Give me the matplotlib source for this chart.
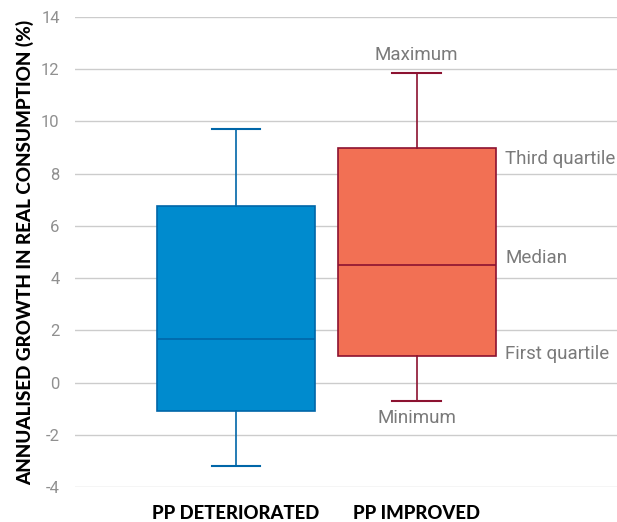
import matplotlib.pyplot as plt

plt.rcParams["axes.unicode_minus"] = False

categories = ["PP DETERIORATED", "PP IMPROVED"]
minimum = [-3.2, -0.7]
first_q = [-1.1, 1.0]
median = [1.65, 4.5]
third_q = [6.75, 9.0]
maximum = [9.7, 11.85]
face_colors = ["#008BCE", "#F27054"]
edge_colors = ["#0066A8", "#8C1230"]

stats = []
for i, name in enumerate(categories):
    stats.append(dict(label=name, whislo=minimum[i], q1=first_q[i], med=median[i],
                      q3=third_q[i], whishi=maximum[i], fliers=[]))

fig = plt.figure(figsize=(6.17, 5.22), dpi=100)
ax = fig.add_axes([75 / 617, 35 / 522, 542 / 617, 470 / 522])

bp = ax.bxp(stats, positions=[0, 1], widths=0.875, patch_artist=True,
            showfliers=False, capwidths=0.27)
for i, box in enumerate(bp["boxes"]):
    box.set_facecolor(face_colors[i])
    box.set_edgecolor(edge_colors[i])
    box.set_linewidth(1.2)
    bp["medians"][i].set_color(edge_colors[i])
    bp["medians"][i].set_linewidth(1.2)
    for k in (2 * i, 2 * i + 1):
        bp["whiskers"][k].set_color(edge_colors[i])
        bp["whiskers"][k].set_linewidth(1.2)
        bp["caps"][k].set_color(edge_colors[i])
        bp["caps"][k].set_linewidth(1.5)

ax.set_xlim(-0.892, 2.11)
ax.set_ylim(-4, 14)
ax.set_yticks(range(-4, 15, 2))
ax.grid(axis="y", color="#cccccc", linewidth=1)
ax.set_axisbelow(True)
for s in ax.spines.values():
    s.set_visible(False)
ax.tick_params(axis="y", length=0, pad=11, labelcolor="#909090", labelsize=12)
ax.tick_params(axis="x", length=0, pad=13, labelsize=13.3)
for lab in ax.get_yticklabels():
    lab.set_fontfamily("Roboto")
for lab in ax.get_xticklabels():
    lab.set_fontfamily("Lato")
    lab.set_fontweight("black")
ax.set_ylabel("ANNUALISED GROWTH IN REAL CONSUMPTION (%)", fontsize=13.6,
              fontweight="black", family="Lato", labelpad=5)

# annotations on the second box
note = dict(color="#7a7a7a", fontsize=13.5, family="Roboto", va="center")
ax.text(1, maximum[1] + 0.68, "Maximum", ha="center", **note)
ax.text(1, minimum[1] - 0.64, "Minimum", ha="center", **note)
ax.text(1.49, third_q[1] - 0.42, "Third quartile", ha="left", **note)
ax.text(1.49, median[1] + 0.27, "Median", ha="left", **note)
ax.text(1.49, first_q[1] + 0.11, "First quartile", ha="left", **note)

fig.savefig("out.png")
